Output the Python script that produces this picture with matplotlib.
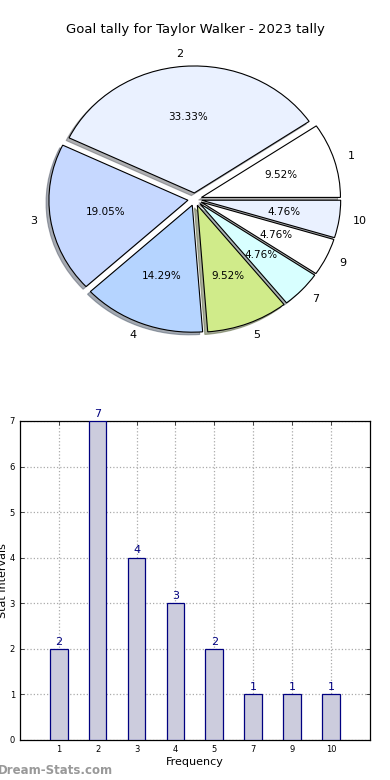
import matplotlib
matplotlib.use("Agg")
import matplotlib.pyplot as plt
import numpy as np

# data
labels = ["1", "2", "3", "4", "5", "7", "9", "10"]
counts = [2, 7, 4, 3, 2, 1, 1, 1]
pie_colors = ["#ffffff", "#eaf1ff", "#c6d8ff", "#b5d4ff", "#d0eb8a", "#d8ffff", "#ffffff", "#eaf1ff"]
yticks = [0, 1, 2, 3, 4, 5, 6, 7]

fig = plt.figure(figsize=(3.9, 7.8), dpi=100)

# pie chart
ax1 = fig.add_axes([0.054, 0.541, 0.891, 0.407])
wedges, texts, autotexts = ax1.pie(counts, labels=labels, colors=pie_colors,
                                   explode=[0.05] * len(counts),
                                   shadow={"ox": -0.015, "oy": -0.015, "shade": 0.6},
                                   autopct="%1.2f%%", startangle=0,
                                   wedgeprops={"edgecolor": "black", "linewidth": 0.8},
                                   textprops={"fontsize": 8})
for t in autotexts:
    t.set_fontsize(7.5)
ax1.set_aspect("auto")
ax1.set_xlim(-1.25, 1.25)
ax1.set_ylim(-1.25, 1.25)
fig.text(0.5, 1 - 30 / 780, "Goal tally for Taylor Walker - 2023 tally",
         ha="center", va="center", fontsize=9.5)

# bar chart
ax2 = fig.add_axes([0.051, 0.0513, 0.897, 0.409])
x = np.arange(1, len(labels) + 1)
ax2.bar(x, counts, width=0.45, color="#ccccdd", edgecolor="#000080", linewidth=0.9, zorder=3)
for xi, c in zip(x, counts):
    ax2.text(xi, c + 0.05, str(c), ha="center", va="bottom", color="#000080", fontsize=8, zorder=4)
ax2.set_xlim(0, len(labels) + 1)
ax2.set_ylim(0, 7)
ax2.set_xticks(x)
ax2.set_xticklabels(labels)
ax2.set_yticks(yticks)
ax2.tick_params(labelsize=6, direction="in", top=True, right=True, length=3, width=0.5)
ax2.grid(True, linestyle=":", color="#aaaaaa", linewidth=0.9)
ax2.set_axisbelow(True)
for s in ax2.spines.values():
    s.set_linewidth(0.9)
ax2.set_xlabel("Frequency", fontsize=8, labelpad=2)
fig.text(0.008, 1 - 581 / 780, "Stat Intervals", rotation=90, ha="center", va="center", fontsize=8)

fig.text(-0.005, 1 - 770 / 780, "Dream-Stats.com", color="#999999", fontsize=8.5,
         fontweight="bold", ha="left", va="center")

fig.savefig("out.png", dpi=100)
